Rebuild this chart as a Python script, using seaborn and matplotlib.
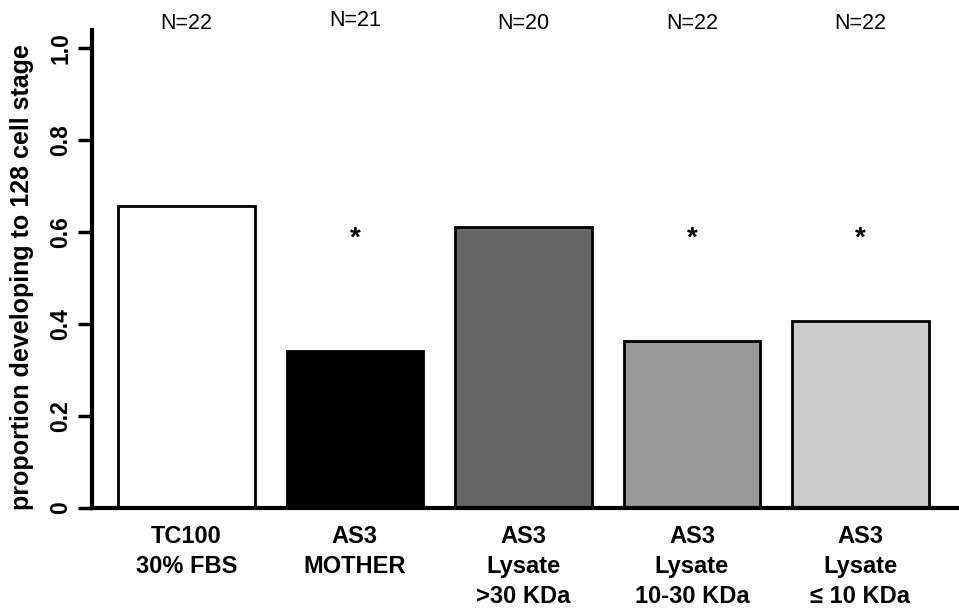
import matplotlib
matplotlib.use("Agg")
import matplotlib.pyplot as plt
import seaborn as sns
import pandas as pd

categories = ["TC100\n30% FBS", "AS3\nMOTHER", "AS3\nLysate\n>30 KDa", "AS3\nLysate\n10-30 KDa", "AS3\nLysate\n\u2264 10 KDa"]
proportions = [0.657, 0.342, 0.611, 0.364, 0.407]
n_labels = ["N=22", "N=21", "N=20", "N=22", "N=22"]
n_offsets = [0.0, 0.006, 0.0, 0.0, 0.0]
significant = [False, True, False, True, True]
colors = ["#ffffff", "#000000", "#666666", "#999999", "#cccccc"]
yticks = [0, 0.2, 0.4, 0.6, 0.8, 1.0]
ytick_labels = ["0", "0.2", "0.4", "0.6", "0.8", "1.0"]

sns.set_style("ticks", rc={"text.color": "black", "axes.labelcolor": "black",
                           "xtick.color": "black", "ytick.color": "black",
                           "axes.edgecolor": "black"})
plt.rcParams["font.family"] = ["Liberation Sans", "DejaVu Sans"]

df = pd.DataFrame({"cat": categories, "p": proportions})

fig = plt.figure(figsize=(9.59, 6.08), dpi=100)
ax = fig.add_axes([92 / 959, 1 - 508 / 608, 1 - 92 / 959, (508 - 30) / 608])

sns.barplot(data=df, x="cat", y="p", hue="cat", palette=colors, legend=False,
            width=0.81, edgecolor="black", linewidth=2, ax=ax, saturation=1)

ax.set_ylim(0, 1.039)
ax.set_xlim(-0.56, 4.585)
ax.set_yticks(yticks)
ax.set_yticklabels(ytick_labels, rotation=90, va="center", fontsize=16.5, fontweight="bold")
ax.tick_params(axis="y", length=10, width=2.5, pad=4)
ax.tick_params(axis="x", length=0, pad=12)
for lab in ax.get_xticklabels():
    lab.set_fontweight("bold")
    lab.set_fontsize(17)
    lab.set_va("top")
    lab.set_linespacing(1.4)

ax.set_xlabel("")
ax.set_ylabel("proportion developing to 128 cell stage", fontsize=18, fontweight="bold")
ax.yaxis.set_label_coords((34 - 92) / 867, 0.484)

for side in ["top", "right"]:
    ax.spines[side].set_visible(False)
for side in ["left", "bottom"]:
    ax.spines[side].set_linewidth(3)

for i, (nl, off, sig) in enumerate(zip(n_labels, n_offsets, significant)):
    ax.text(i, 1.054 + off, nl, ha="center", va="center", fontsize=15.5, clip_on=False)
    if sig:
        ax.text(i, 0.585, "*", ha="center", va="center", fontsize=20, fontweight="bold")

fig.savefig("out.png", dpi=100)
